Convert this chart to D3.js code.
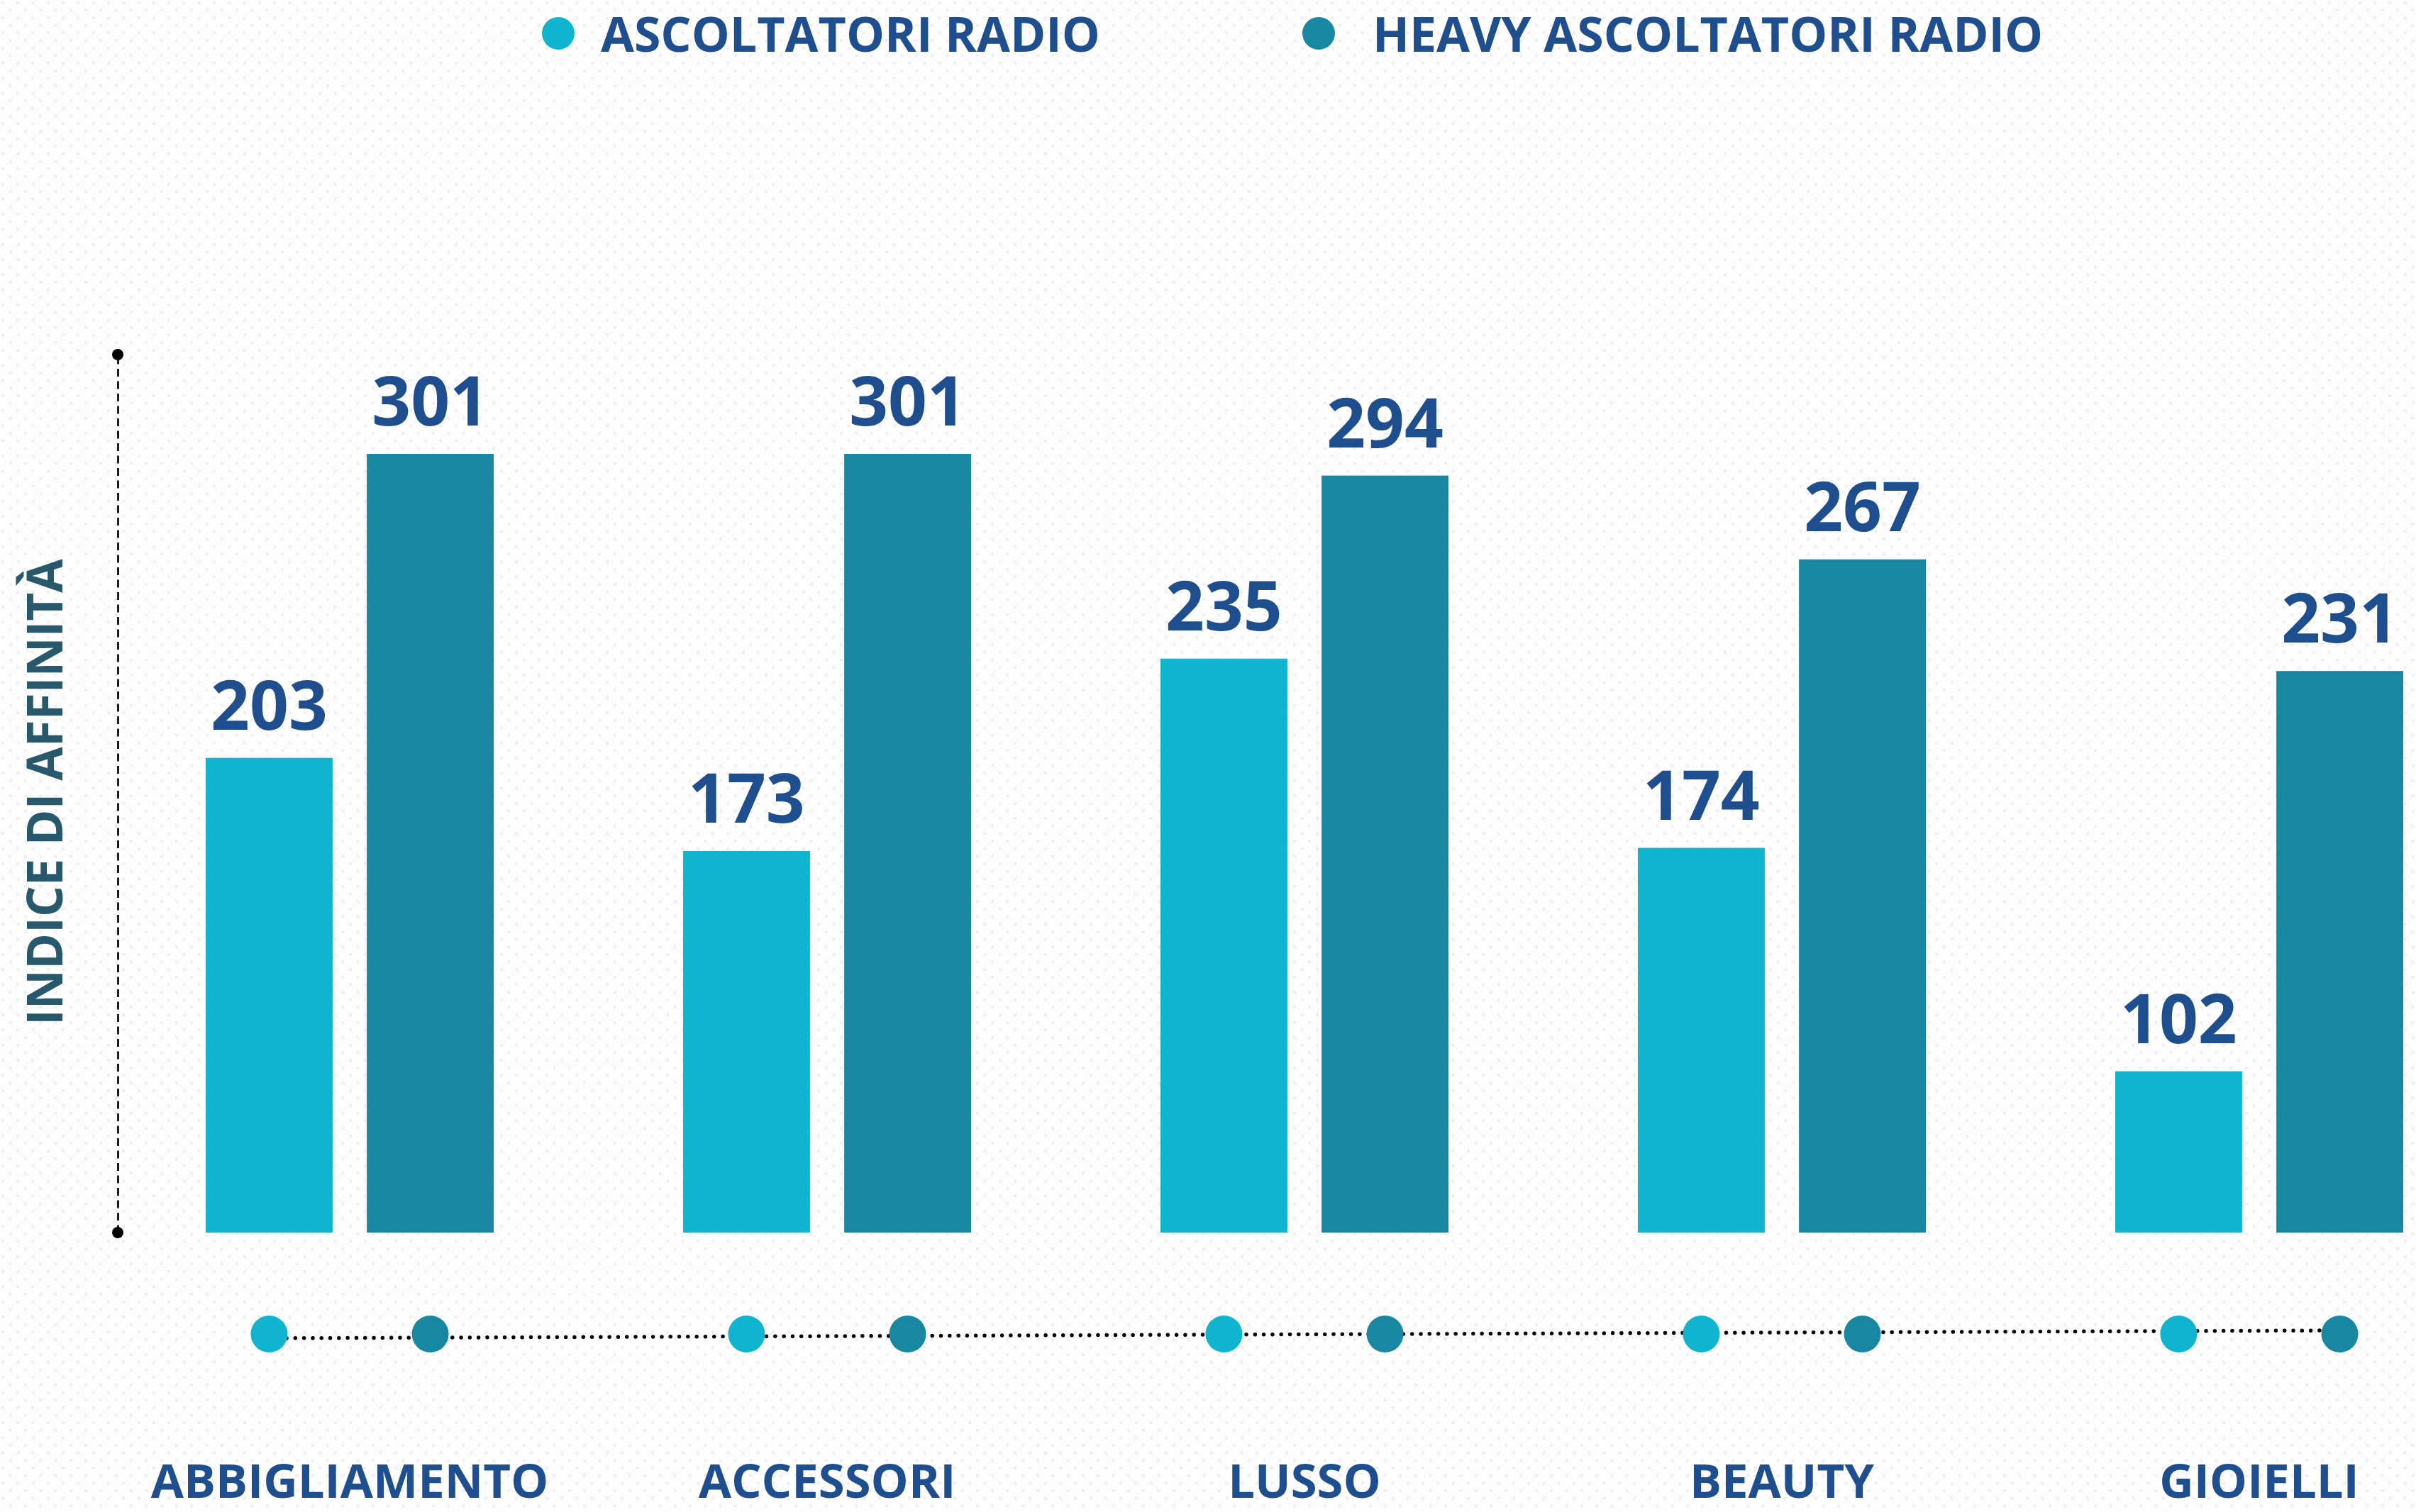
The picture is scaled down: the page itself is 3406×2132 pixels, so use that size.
<!DOCTYPE html>
<html>
<head>
<meta charset="utf-8">
<script src="https://cdn.jsdelivr.net/npm/d3@7"></script>
<style>
	body { margin: 0; background: #fdfdfd; }
	text { font-family: "Open Sans", "Noto Sans", sans-serif; font-weight: 700; }
</style>
</head>
<body>
<div id="chart"></div>
<script>
(function(){
	// data
	const categories = ["ABBIGLIAMENTO", "ACCESSORI", "LUSSO", "BEAUTY", "GIOIELLI"];
	const seriesNames = ["ASCOLTATORI RADIO", "HEAVY ASCOLTATORI RADIO"];
	const ascoltatori = [203, 173, 235, 174, 102];
	const heavyAscoltatori = [301, 301, 294, 267, 231];
	const axisTitle = "INDICE DI AFFINITÀ";

	const COLORS = ["#10b4ce", "#1a87a2"];
	const BLUE = "#1f4e8f";

	var width = 3406,
		height = 2132;

	var svg = d3.select("#chart")
				.append("svg")
				.attr("width", width)
				.attr("height", height);

	// dotted paper background
	var pattern = svg.append("defs")
					 .append("pattern")
					 .attr("id", "paper")
					 .attr("patternUnits", "userSpaceOnUse")
					 .attr("width", 21.3)
					 .attr("height", 21.3);
	pattern.append("rect").attr("width", 21.3).attr("height", 21.3).attr("fill", "#fdfdfd");
	pattern.append("rect").attr("x", 2).attr("y", 2).attr("width", 4).attr("height", 4).attr("fill", "#efefef");
	pattern.append("rect").attr("x", 12.6).attr("y", 12.6).attr("width", 4).attr("height", 4).attr("fill", "#efefef");

	svg.append("rect")
	   .attr("width", width)
	   .attr("height", height)
	   .attr("fill", "url(#paper)");

	var data = categories.map((c, i) => ({ cat: c, values: [ascoltatori[i], heavyAscoltatori[i]] }));

	var x0 = d3.scaleBand()
			   .domain(categories)
			   .range([290, 3388])
			   .paddingInner(0.3967)
			   .paddingOuter(0);

	var x1 = d3.scaleBand()
			   .domain(seriesNames)
			   .range([0, x0.bandwidth()])
			   .paddingInner(0.2124);

	// the axis does not start at zero
	var y = d3.scaleLinear()
			  .domain([50, 333])
			  .range([1738, 500]);

	// vertical axis: dashed line with round ends
	var axis = svg.append("g")
				  .attr("transform", "translate(166,0)")
				  .call(d3.axisLeft(y).ticks(0).tickSize(0).tickSizeOuter(0));
	axis.select(".domain")
		.attr("stroke", "#000")
		.attr("stroke-width", 2.7)
		.attr("stroke-dasharray", "11 6.5");
	axis.selectAll(".end")
		.data(y.range())
		.enter().append("circle")
		.attr("class", "end")
		.attr("cy", d => d)
		.attr("r", 8)
		.attr("fill", "#000");

	svg.append("text")
	   .attr("transform", "translate(88," + ((y.range()[0] + y.range()[1]) / 2 - 2) + ") rotate(-90)")
	   .attr("text-anchor", "middle")
	   .attr("font-size", 69)
	   .attr("fill", "#27586b")
	   .text(axisTitle);

	// bars
	var groups = svg.selectAll(".group")
					.data(data)
					.enter().append("g")
					.attr("class", "group")
					.attr("transform", d => "translate(" + x0(d.cat) + ",0)");

	var bars = groups.selectAll(".bar")
					 .data(d => d.values.map((v, i) => ({ key: seriesNames[i], value: v, i: i })))
					 .enter();

	bars.append("rect")
		.attr("class", "bar")
		.attr("x", d => x1(d.key))
		.attr("y", d => y(d.value))
		.attr("width", x1.bandwidth())
		.attr("height", d => y.range()[0] - y(d.value))
		.attr("fill", d => COLORS[d.i]);

	bars.append("text")
		.attr("x", d => x1(d.key) + x1.bandwidth() / 2)
		.attr("y", d => y(d.value) - 40)
		.attr("text-anchor", "middle")
		.attr("font-size", 96)
		.attr("fill", BLUE)
		.text(d => d.value);

	// dotted connector with a dot under every bar
	var dotX = [];
	data.forEach(d => seriesNames.forEach(s => dotX.push(x0(d.cat) + x1(s) + x1.bandwidth() / 2)));

	svg.append("line")
	   .attr("x1", dotX[0])
	   .attr("x2", dotX[dotX.length - 1])
	   .attr("y1", 1887)
	   .attr("y2", 1876)
	   .attr("stroke", "#000")
	   .attr("stroke-width", 5.5)
	   .attr("stroke-linecap", "round")
	   .attr("stroke-dasharray", "0 12.3");

	svg.selectAll(".dot")
	   .data(dotX)
	   .enter().append("circle")
	   .attr("class", "dot")
	   .attr("cx", d => d)
	   .attr("cy", 1881)
	   .attr("r", 26)
	   .attr("fill", (d, i) => COLORS[i % 2]);

	// category labels
	svg.selectAll(".cat")
	   .data(categories)
	   .enter().append("text")
	   .attr("class", "cat")
	   .attr("x", d => x0(d) + x0.bandwidth() / 2)
	   .attr("y", 2112)
	   .attr("text-anchor", "middle")
	   .attr("font-size", 67)
	   .attr("fill", BLUE)
	   .text(d => d);

	// legend
	var legendX = [787, 1859],
		legendTextX = [60, 76];
	var legend = svg.selectAll(".legend")
					.data(seriesNames)
					.enter().append("g")
					.attr("class", "legend")
					.attr("transform", (d, i) => "translate(" + legendX[i] + ",47)");
	legend.append("circle")
		  .attr("r", 23)
		  .attr("fill", (d, i) => COLORS[i]);
	legend.append("text")
		  .attr("x", (d, i) => legendTextX[i])
		  .attr("y", 26)
		  .attr("font-size", 68)
		  .attr("fill", BLUE)
		  .text(d => d);
})();
</script>
</body>
</html>
